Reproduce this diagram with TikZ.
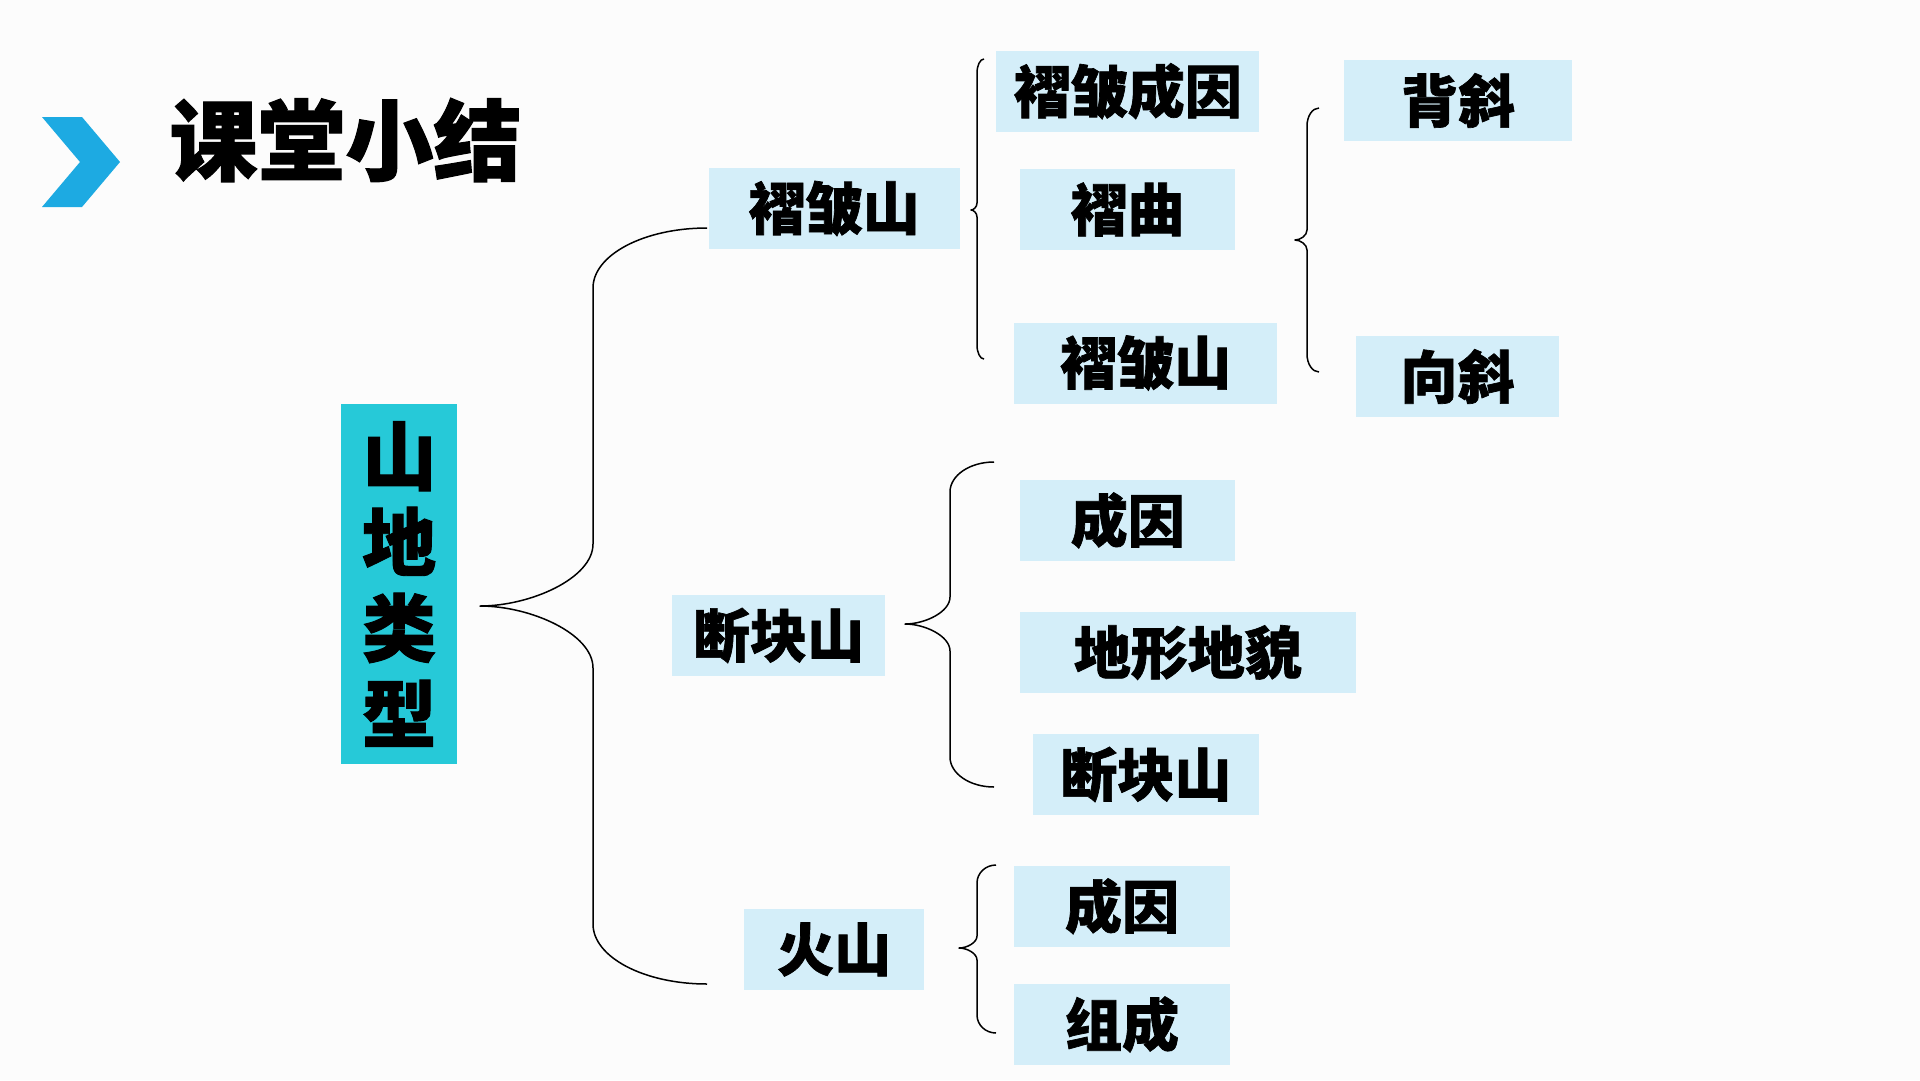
\documentclass[tikz,border=0pt]{standalone}
\usepackage{fontspec}
\newfontfamily\cjk{Noto Sans CJK SC}[BoldFeatures={FakeBold=1.2}]
\definecolor{boxblue}{HTML}{D4EEF9}
\definecolor{cyanbox}{HTML}{26C9D8}
\definecolor{chevblue}{HTML}{1DAAE2}
\definecolor{bgcol}{HTML}{FCFCFC}
\tikzset{
  leaf/.style={fill=boxblue, inner sep=0pt, minimum height=81pt, font=\cjk\bfseries\fontsize{57}{60}\selectfont, text=black},
  bracel/.style={draw=black, line width=1.5pt, line join=round},
}
\newcommand\bx[1]{\raisebox{-6pt}{#1}}
% e v t ytop ym ybot r1 r2 ; elliptical quarter arcs
\newcommand\mybrace[8]{%
  \draw[bracel] (#1,#4) .. controls ({#1-0.5523*(#1-#2)},#4) and (#2,{#4+(1-0.5523)*#7}) .. (#2,#4+#7)
    -- (#2,#5-#8)
    .. controls (#2,{#5-(1-0.5523)*#8}) and ({#2-0.5523*(#2-#3)},#5) .. (#3,#5)
    .. controls ({#2-0.5523*(#2-#3)},#5) and (#2,{#5+(1-0.5523)*#8}) .. (#2,#5+#8)
    -- (#2,#6-#7)
    .. controls (#2,{#6-(1-0.5523)*#7}) and ({#1-0.5523*(#1-#2)},#6) .. (#1,#6);}
\begin{document}
\begin{tikzpicture}[x=1pt,y=-1pt]
\fill[bgcol] (0,0) rectangle (1920,1080);
\useasboundingbox (0,0) rectangle (1920,1080);
% chevron and title
\fill[chevblue] (42,117) -- (82,117) -- (120,162) -- (82,207) -- (42,207) -- (80,162) -- cycle;
\node[font=\cjk\bfseries\fontsize{88}{88}\selectfont, inner sep=0pt] (title) at (345.5,140) {课堂小结};
% root
\node[fill=cyanbox, minimum width=115.6pt, minimum height=360pt, inner sep=0pt,
      font=\cjk\bfseries\fontsize{74}{86}\selectfont, align=center] (sd) at (399.2,584) {山\\地\\类\\型};
% level 1
\node[leaf, minimum width=251pt] (zz1) at (834,208.5) {\bx{褶皱山}};
\node[leaf, minimum width=213pt] (dk1) at (778.5,635.5) {\bx{断块山}};
\node[leaf, minimum width=180pt] (hs1) at (834,949.5) {\bx{火山}};
% level 2
\node[leaf, minimum width=263.5pt] (zzcy) at (1127.7,91.2) {\bx{褶皱成因}};
\node[leaf, minimum width=215pt] (zq) at (1127.5,209.5) {\bx{褶曲}};
\node[leaf, minimum width=263pt] (zz2) at (1145.5,363) {\bx{褶皱山}};
\node[leaf, minimum width=215.4pt] (cy1) at (1127.7,520.4) {\bx{成因}};
\node[leaf, minimum width=335.7pt] (dx) at (1187.9,652.5) {\bx{地形地貌}};
\node[leaf, minimum width=226.5pt] (dk2) at (1145.8,774.5) {\bx{断块山}};
\node[leaf, minimum width=216pt] (cy2) at (1122,906.3) {\bx{成因}};
\node[leaf, minimum width=216pt] (zc) at (1122,1024.5) {\bx{组成}};
% level 3
\node[leaf, minimum width=228pt] (bx) at (1458,100.5) {\bx{背斜}};
\node[leaf, minimum width=203pt] (xx) at (1457.5,376.5) {\bx{向斜}};
% braces
\mybrace{707}{593}{480}{228}{606}{984}{60}{62}
\mybrace{984}{977}{971}{59}{210}{359}{14}{7}
\mybrace{994}{950}{905}{462}{624}{787}{30}{27}
\mybrace{996}{977}{959}{865}{948}{1033}{18}{12}
\mybrace{1319}{1307}{1295}{108}{240}{372}{18}{10}
\end{tikzpicture}
\end{document}
